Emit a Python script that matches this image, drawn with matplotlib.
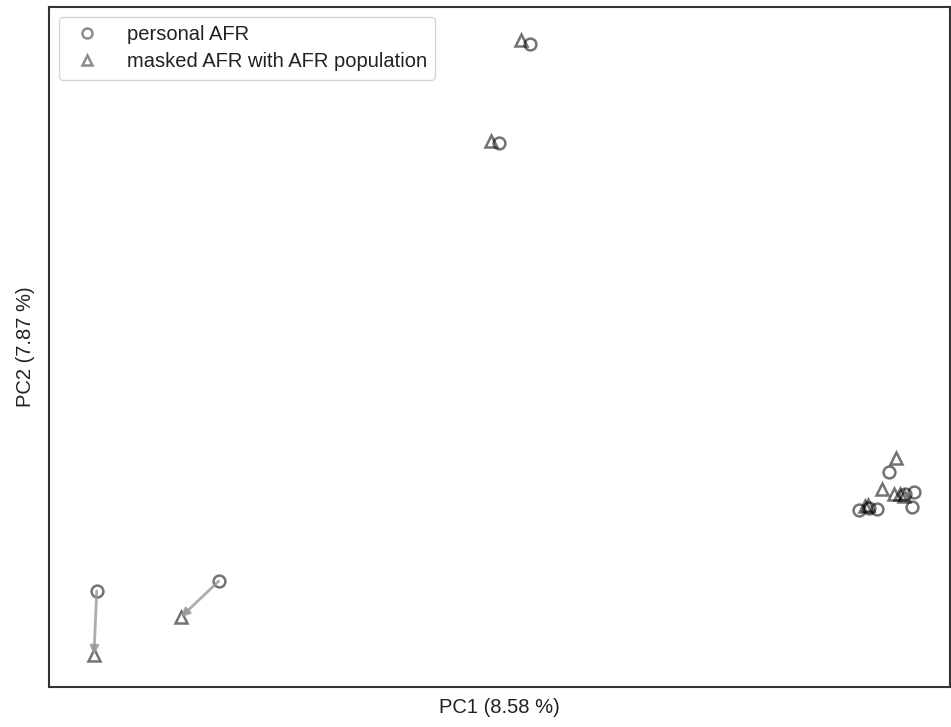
import matplotlib.pyplot as plt
import numpy as np

plt.rcParams['font.family'] = ['Liberation Sans', 'DejaVu Sans']

# PCA coordinates: personal AFR (circles) and masked AFR (triangles), paired by index
pers_x = [0.0469, 0.0400, -0.0494, -0.0223, 0.1265, 0.1198, 0.1220, 0.1238, 0.1302, 0.1322, 0.1316]
pers_y = [0.1080, 0.0760, -0.0689, -0.0657, -0.0304, -0.0427, -0.0421, -0.0424, -0.0376, -0.0369, -0.0418]
mask_x = [0.0449, 0.0382, -0.0500, -0.0307, 0.1282, 0.1212, 0.1218, 0.1251, 0.1289, 0.1276, 0.1298]
mask_y = [0.1093, 0.0766, -0.0896, -0.0774, -0.0259, -0.0414, -0.0411, -0.0359, -0.0376, -0.0376, -0.0382]

fig = plt.figure(figsize=(9.51, 7.27), dpi=100)
ax = fig.add_axes([0.0515, 0.055, 0.947, 0.935])

# arrows only where the shift is visible
for x0, y0, x1, y1 in zip(pers_x, pers_y, mask_x, mask_y):
    if np.hypot(x1 - x0, y1 - y0) < 0.01:
        continue
    ax.annotate('', xy=(x1, y1), xytext=(x0, y0),
                arrowprops=dict(arrowstyle='-|>', color='#999999', lw=2,
                                alpha=0.8, mutation_scale=12,
                                shrinkA=0, shrinkB=0))

ax.plot(pers_x, pers_y, 'o', ms=8.5, mfc='none', mec='k', mew=1.8, alpha=0.55,
        label='personal AFR')
ax.plot(mask_x, mask_y, '^', ms=8.5, mfc='none', mec='k', mew=1.8, alpha=0.55,
        label='masked AFR with AFR population')

ax.set_xlim(-0.06, 0.14)
ax.set_ylim(-0.10, 0.12)
ax.set_xticks([])
ax.set_yticks([])
for s in ax.spines.values():
    s.set_color('#333333')
    s.set_linewidth(1.5)

ax.set_xlabel('PC1 (8.58 %)', fontsize=14.5, color='#222222', labelpad=8)
ax.set_ylabel('PC2 (7.87 %)', fontsize=14.5, color='#222222', labelpad=10)

leg = ax.legend(loc='upper left', fontsize=14.5, markerscale=0.85, frameon=True,
                borderaxespad=0.5, handletextpad=0.95, labelspacing=0.4)
leg.get_frame().set_edgecolor('#cccccc')
for t in leg.get_texts():
    t.set_color('#222222')
for h in leg.legend_handles:
    h.set_alpha(0.45)

fig.savefig('out.png', dpi=100)
